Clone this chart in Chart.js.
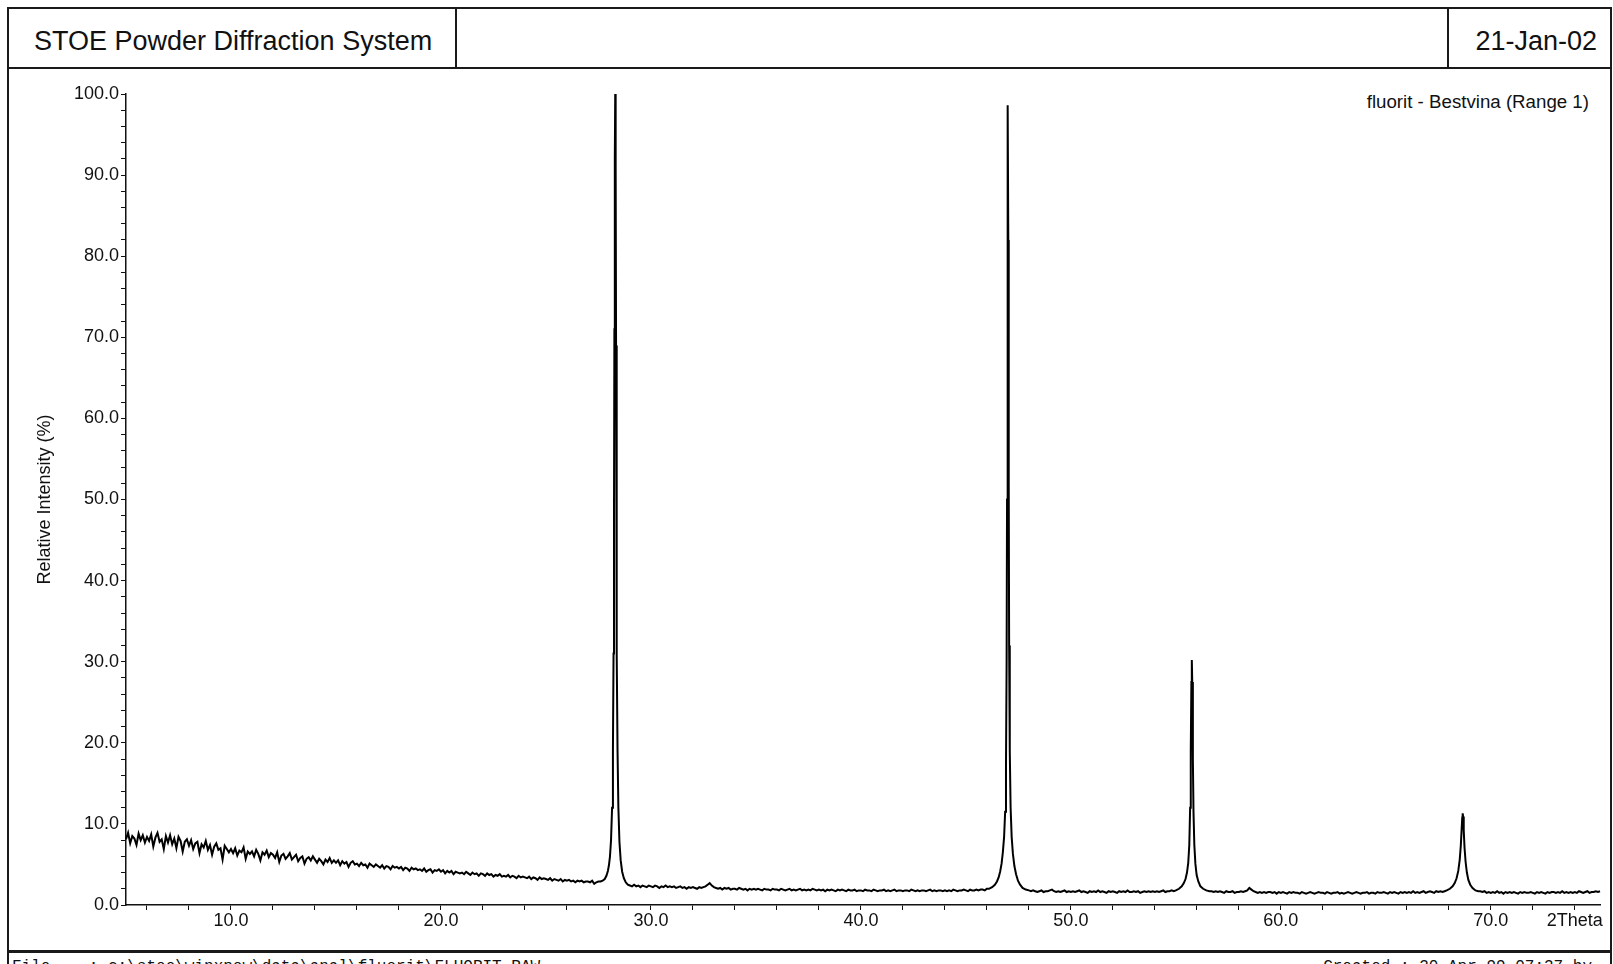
<!DOCTYPE html>
<html>
<head>
<meta charset="utf-8">
<title>STOE Powder Diffraction System</title>
<script src="https://cdn.jsdelivr.net/npm/chart.js@4/dist/chart.umd.min.js"></script>
<style>
  body { margin: 0; background: #fff; }
  #page { position: relative; width: 1613px; height: 964px; overflow: hidden;
          font-family: "Liberation Sans", Arial, sans-serif; color: #111; }
  .rule { position: absolute; background: #1a1a1a; }
  .txt { position: absolute; white-space: pre; }
  #chart { position: absolute; left: 0; top: 0; }
</style>
</head>
<body>
<div id="page">
  <div class="rule" style="left:7px;top:7px;width:1605px;height:2px"></div>
  <div class="rule" style="left:7px;top:7px;width:2px;height:960px"></div>
  <div class="rule" style="left:1610px;top:7px;width:2px;height:960px"></div>
  <div class="rule" style="left:7px;top:67px;width:1605px;height:2px"></div>
  <div class="rule" style="left:455px;top:7px;width:2px;height:62px"></div>
  <div class="rule" style="left:1447px;top:7px;width:2px;height:62px"></div>
  <div class="rule" style="left:7px;top:950px;width:1605px;height:3px"></div>

  <div class="txt" id="head-left" style="left:34px;top:12px;height:58px;line-height:58px;font-size:27px"></div>
  <div class="txt" id="head-right" style="right:16px;top:12px;height:58px;line-height:58px;font-size:27px"></div>
  <div class="txt" id="sample" style="right:24px;top:91px;font-size:18.7px;line-height:22px"></div>
  <div class="txt" id="foot-left" style="left:12px;top:959px;font-family:'Liberation Mono',monospace;font-size:16px;line-height:16px"></div>
  <div class="txt" id="foot-right" style="right:21px;top:959px;font-family:'Liberation Mono',monospace;font-size:16px;line-height:16px"></div>

  <canvas id="chart" width="1613" height="964"></canvas>
</div>
<script>
const headerTitle = 'STOE Powder Diffraction System';
const headerDate = '21-Jan-02';
const sampleName = 'fluorit - Bestvina (Range 1)';
const footerFile = 'File    : c:\\stoe\\winxpow\\data\\anal\\fluorit\\FLUORIT.RAW';
const footerCreated = 'Created : 30-Apr-99 07:37 by';

const yAxisTitle = 'Relative Intensity (%)';
const xAxisName = '2Theta';
const xLabelTicks = [10, 20, 30, 40, 50, 60, 70];
const xNameTick = 74;

// background scan, 0.1 deg steps
const scanStep = 0.1;

const scan1Start = 5.0; // 5.0 - 27.5
const scan1 = [
  8.1, 8.9, 7.6, 8.5, 8.2, 7.4, 8.8, 8.0, 8.6, 7.7,
  8.4, 7.9, 8.7, 7.2, 8.3, 8.9, 7.8, 8.1, 6.9, 8.5,
  7.7, 8.6, 7.5, 8.2, 7.0, 8.4, 7.9, 6.6, 7.8, 8.1,
  7.3, 8.0, 6.9, 7.6, 7.8, 6.4, 7.5, 7.1, 7.9, 6.8,
  7.4, 6.2, 7.2, 7.6, 6.8, 7.0, 5.6, 7.3, 6.9, 6.5,
  6.9, 6.4, 7.0, 6.1, 6.7, 6.5, 7.1, 5.7, 6.6, 6.3,
  6.6, 6.0, 6.8, 6.3, 5.5, 6.5, 6.2, 6.7, 5.9, 6.4,
  6.2, 5.8, 6.5, 5.3, 6.1, 6.3, 5.7, 6.0, 6.4, 5.6,
  5.9, 6.2, 5.4, 5.8, 6.0, 5.1, 5.7, 5.9, 5.5, 6.0,
  5.6, 5.2, 5.7, 5.4, 5.0, 5.6, 5.3, 5.8, 5.2, 5.5,
  5.2, 5.5, 4.9, 5.4, 5.1, 5.3, 4.7, 5.2, 5.4, 5.0,
  5.1, 4.8, 5.2, 4.9, 5.0, 4.6, 5.1, 4.9, 4.7, 5.0,
  4.8, 4.6, 4.9, 4.5, 4.8, 4.7, 4.4, 4.8, 4.6, 4.7,
  4.5, 4.7, 4.3, 4.6, 4.5, 4.2, 4.6, 4.4, 4.5, 4.3,
  4.4, 4.2, 4.5, 4.1, 4.3, 4.4, 4.0, 4.3, 4.2, 4.4,
  4.1, 4.3, 3.9, 4.2, 4.0, 4.2, 3.8, 4.1, 4.0, 3.9,
  4.0, 3.8, 4.1, 3.9, 3.7, 4.0, 3.8, 3.9, 3.6, 3.9,
  3.8, 3.6, 3.9, 3.7, 3.8, 3.5, 3.7, 3.6, 3.8, 3.5,
  3.6, 3.5, 3.7, 3.4, 3.6, 3.5, 3.3, 3.6, 3.4, 3.5,
  3.4, 3.3, 3.5, 3.2, 3.4, 3.3, 3.1, 3.4, 3.2, 3.3,
  3.2, 3.1, 3.3, 3.0, 3.2, 3.1, 3.0, 3.2, 2.9, 3.1,
  3.0, 3.1, 2.9, 3.0, 2.8, 3.0, 2.9, 3.0, 2.8, 2.9,
  2.9, 2.8, 3.0, 2.6, 2.8, 2.9
];

const scan2Start = 29.0; // 29.0 - 46.0
const scan2 = [
  2.4, 2.3, 2.5, 2.3, 2.4, 2.2, 2.4, 2.3, 2.2, 2.4,
  2.3, 2.2, 2.4, 2.3, 2.1, 2.3, 2.2, 2.4, 2.2, 2.3,
  2.2, 2.3, 2.1, 2.2, 2.3, 2.1, 2.2, 2.0, 2.2, 2.1,
  2.2, 2.1, 2.0, 2.2, 2.1, 2.2, 2.3, 2.5, 2.7, 2.4,
  2.2, 2.1, 2.0, 2.1, 1.9, 2.1, 2.0, 2.1, 1.9, 2.0,
  2.0, 1.9, 2.1, 2.0, 1.9, 2.0, 1.8, 2.0, 1.9, 2.0,
  1.9, 2.0, 1.9, 1.8, 2.0, 1.9, 1.9, 1.8, 2.0, 1.9,
  1.9, 1.8, 2.0, 1.9, 1.8, 1.9, 2.0, 1.8, 1.9, 1.8,
  1.9, 2.0, 1.8, 1.9, 1.8, 1.9, 1.8, 2.0, 1.9, 1.8,
  1.9, 1.8, 1.9, 1.7, 1.9, 1.8, 1.9, 1.8, 1.7, 1.9,
  1.8, 1.9, 1.8, 1.7, 1.9, 1.8, 1.8, 1.9, 1.7, 1.8,
  1.8, 1.7, 1.9, 1.8, 1.8, 1.7, 1.9, 1.8, 1.7, 1.8,
  1.8, 1.9, 1.7, 1.8, 1.7, 1.8, 1.9, 1.7, 1.8, 1.8,
  1.7, 1.8, 1.8, 1.7, 1.9, 1.8, 1.7, 1.8, 1.7, 1.8,
  1.8, 1.7, 1.8, 1.9, 1.7, 1.8, 1.7, 1.8, 1.8, 1.7,
  1.8, 1.7, 1.8, 1.7, 1.9, 1.8, 1.7, 1.8, 1.8, 1.9,
  1.8, 1.7, 1.9, 1.8, 1.8, 1.9, 1.8, 1.9, 1.9, 1.8,
  2.0
];

const scan3Start = 48.1; // 48.1 - 54.9
const scan3 = [
  1.7, 1.8, 1.7, 1.6, 1.7, 1.8, 1.6, 1.7, 1.7,
  1.8, 1.9, 1.7, 1.6, 1.7, 1.6, 1.7, 1.8, 1.6, 1.7,
  1.6, 1.7, 1.6, 1.7, 1.8, 1.6, 1.7, 1.6, 1.5, 1.7,
  1.6, 1.7, 1.6, 1.8, 1.6, 1.7, 1.6, 1.5, 1.7, 1.6,
  1.7, 1.6, 1.5, 1.7, 1.6, 1.7, 1.6, 1.8, 1.6, 1.6,
  1.7, 1.6, 1.7, 1.5, 1.6, 1.7, 1.6, 1.7, 1.6, 1.7,
  1.6, 1.7, 1.6, 1.7, 1.8, 1.6, 1.7, 1.7, 1.8, 1.7
];

const scan4Start = 56.6; // 56.6 - 67.8
const scan4 = [
  1.7, 1.7, 1.6, 1.7,
  1.6, 1.7, 1.6, 1.5, 1.7, 1.6, 1.6, 1.7, 1.5, 1.6,
  1.6, 1.7, 1.6, 1.7, 1.8, 2.1, 1.9, 1.7, 1.6, 1.5,
  1.6, 1.5, 1.6, 1.5, 1.6, 1.6, 1.5, 1.6, 1.4, 1.6,
  1.5, 1.6, 1.5, 1.4, 1.6, 1.5, 1.6, 1.5, 1.5, 1.4,
  1.6, 1.5, 1.4, 1.5, 1.6, 1.5, 1.4, 1.5, 1.6, 1.5,
  1.5, 1.4, 1.6, 1.5, 1.4, 1.5, 1.5, 1.6, 1.4, 1.5,
  1.4, 1.5, 1.6, 1.5, 1.4, 1.5, 1.6, 1.5, 1.4, 1.5,
  1.5, 1.6, 1.4, 1.5, 1.5, 1.4, 1.6, 1.5, 1.5, 1.6,
  1.5, 1.4, 1.6, 1.5, 1.6, 1.5, 1.4, 1.6, 1.5, 1.6,
  1.5, 1.6, 1.5, 1.7, 1.5, 1.6, 1.5, 1.6, 1.7, 1.5,
  1.6, 1.7, 1.6, 1.5, 1.7, 1.6, 1.7, 1.6, 1.7
];

const scan5Start = 69.5; // 69.5 - 75.2
const scan5 = [
  1.7, 1.6, 1.7, 1.5, 1.6,
  1.5, 1.6, 1.5, 1.7, 1.5, 1.6, 1.4, 1.6, 1.5, 1.6,
  1.5, 1.6, 1.5, 1.4, 1.6, 1.5, 1.6, 1.5, 1.5, 1.6,
  1.5, 1.4, 1.6, 1.5, 1.6, 1.5, 1.4, 1.6, 1.5, 1.6,
  1.6, 1.5, 1.6, 1.5, 1.7, 1.5, 1.6, 1.5, 1.6, 1.5,
  1.6, 1.5, 1.7, 1.6, 1.5, 1.6, 1.7, 1.5, 1.6, 1.6,
  1.7, 1.6, 1.7
];

// reflections, finer sampling across each peak
const peak1Theta = [27.60, 27.70, 27.80, 27.88, 27.95, 28.00, 28.05, 28.10, 28.15, 28.19, 28.22, 28.24, 28.26, 28.28,
  28.30, 28.32, 28.34, 28.36, 28.38, 28.41, 28.45, 28.50, 28.56, 28.63, 28.71, 28.80, 28.90];
const peak1Int = [2.9, 3.0, 3.2, 3.6, 4.2, 4.9, 6.0, 8.0, 12, 19, 31, 47, 71, 92,
  100.0, 91, 69, 47, 31, 19, 12, 7.8, 5.5, 4.1, 3.3, 2.8, 2.5];

const peak2Theta = [46.10, 46.25, 46.38, 46.48, 46.56, 46.63, 46.70, 46.76, 46.82, 46.87, 46.91, 46.94, 46.96, 46.98,
  47.00, 47.02, 47.04, 47.06, 47.09, 47.13, 47.18, 47.24, 47.31, 47.39, 47.48, 47.58, 47.70, 47.85, 48.00];
const peak2Int = [2.0, 2.2, 2.5, 2.9, 3.4, 4.1, 5.1, 6.5, 8.4, 11.5, 17, 30, 50, 80,
  98.6, 82, 52, 32, 19, 12, 8.4, 6.3, 4.8, 3.8, 3.0, 2.5, 2.1, 1.9, 1.8];

const peak3Theta = [55.00, 55.15, 55.28, 55.38, 55.46, 55.53, 55.59, 55.64, 55.68, 55.71, 55.74,
  55.76, 55.78, 55.81, 55.84, 55.88, 55.93, 55.99, 56.07, 56.17, 56.30, 56.45];
const peak3Int = [1.8, 2.0, 2.3, 2.7, 3.2, 4.0, 5.2, 7.4, 12, 19, 27.5,
  30.2, 27.5, 18, 11.5, 7.4, 5.1, 3.7, 2.9, 2.3, 2.0, 1.8];

const peak4Theta = [67.90, 68.05, 68.18, 68.28, 68.37, 68.45, 68.52, 68.57, 68.61, 68.64,
  68.66, 68.68, 68.71, 68.75, 68.80, 68.86, 68.93, 69.02, 69.13, 69.27, 69.40];
const peak4Int = [1.8, 2.0, 2.3, 2.7, 3.3, 4.2, 5.6, 7.3, 9.3, 10.8,
  11.3, 10.9, 9.2, 7.0, 5.3, 4.0, 3.1, 2.5, 2.1, 1.8, 1.7];

document.getElementById('head-left').textContent = headerTitle;
document.getElementById('head-right').textContent = headerDate;
document.getElementById('sample').textContent = sampleName;
document.getElementById('foot-left').textContent = footerFile;
document.getElementById('foot-right').textContent = footerCreated;

function scanPoints(start, values) {
  return values.map((v, i) => ({ x: Math.round((start + i * scanStep) * 100) / 100, y: v }));
}
function peakPoints(thetas, values) {
  return thetas.map((t, i) => ({ x: t, y: values[i] }));
}

const points = [
  ...scanPoints(scan1Start, scan1),
  ...peakPoints(peak1Theta, peak1Int),
  ...scanPoints(scan2Start, scan2),
  ...peakPoints(peak2Theta, peak2Int),
  ...scanPoints(scan3Start, scan3),
  ...peakPoints(peak3Theta, peak3Int),
  ...scanPoints(scan4Start, scan4),
  ...peakPoints(peak4Theta, peak4Int),
  ...scanPoints(scan5Start, scan5)
];

const ink = '#111';
Chart.defaults.font.family = '"Liberation Sans", Arial, sans-serif';
Chart.defaults.font.size = 18;
Chart.defaults.color = ink;

new Chart(document.getElementById('chart'), {
  type: 'line',
  data: {
    datasets: [{
      label: sampleName,
      data: points,
      borderColor: '#000',
      borderWidth: 2,
      pointRadius: 0,
      tension: 0,
      fill: false,
      clip: false
    }]
  },
  options: {
    responsive: false,
    animation: false,
    events: [],
    layout: { padding: { top: 94, left: 34, right: 13, bottom: 19 } },
    plugins: { legend: { display: false }, tooltip: { enabled: false } },
    scales: {
      x: {
        type: 'linear',
        min: 5,
        max: 75.2,
        afterFit: s => { s.height = 40; },
        border: { display: true, color: ink, width: 1.5 },
        grid: { drawOnChartArea: false, drawTicks: true, tickLength: 5, color: ink },
        ticks: {
          stepSize: 2,
          includeBounds: false,
          autoSkip: false,
          maxRotation: 0,
          padding: 0,
          callback: v => xLabelTicks.includes(v) ? v.toFixed(1) : (v === xNameTick ? xAxisName : '')
        }
      },
      y: {
        min: 0,
        max: 100,
        afterFit: s => { s.width = 92; },
        border: { display: true, color: ink, width: 1.5 },
        grid: { drawOnChartArea: false, drawTicks: true, tickLength: 5, color: ink },
        title: { display: true, text: yAxisTitle, padding: { top: 0, bottom: 0 } },
        ticks: {
          stepSize: 2,
          autoSkip: false,
          padding: 2,
          callback: v => (v % 10 === 0 ? v.toFixed(1) : '')
        }
      }
    }
  }
});
</script>
</body>
</html>
